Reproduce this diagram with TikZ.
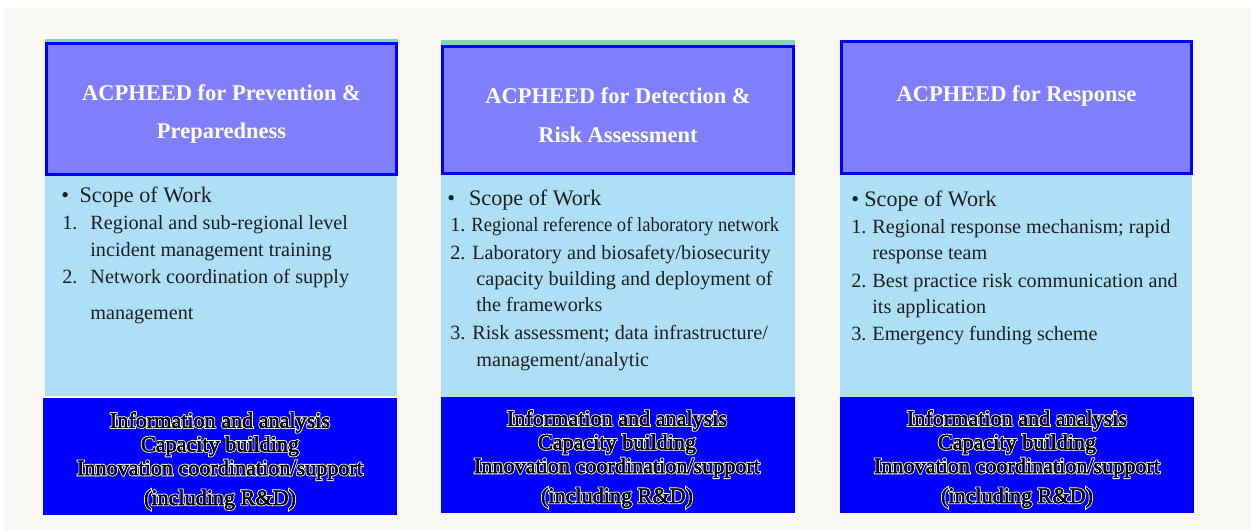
\documentclass[tikz,border=0pt]{standalone}
\usepackage{fontspec}
\setmainfont{Liberation Serif}
\newfontfamily\halofont[FakeBold=10]{Liberation Serif}
\newfontfamily\tagfont[FakeBold=2.5]{Liberation Serif}
\usepackage{graphicx}
\usepackage{xcolor}
\usetikzlibrary{positioning}

\definecolor{paper}{RGB}{250,248,244}
\definecolor{headfill}{RGB}{127,127,255}
\definecolor{headline}{RGB}{0,0,255}
\definecolor{bodyfill}{RGB}{173,223,247}
\definecolor{footfill}{RGB}{0,0,255}
\definecolor{rim}{RGB}{128,212,198}
\definecolor{ink}{RGB}{30,30,30}

% shared cross-cutting functions, set as black text over a white stroked copy
\newcommand{\tagtext}{Information and analysis\\Capacity building\\Innovation coordination/support\\[3.5pt](including R\&D)}
\newcommand{\crosscut}[3]{%
  \node[tag, text=white, font=\fontsize{12.6}{13.5}\selectfont\halofont, name=#1-halo] at (#2,#3) {\tagtext};
  \node[tag, text=black, font=\fontsize{12.6}{13.5}\selectfont\tagfont, name=#1] at (#2,#3) {\tagtext};}

\begin{document}
\begin{tikzpicture}[
  x=0.02cm, y=-0.02cm,
  head/.style={font=\fontsize{12.8}{22}\selectfont\bfseries, text=white, align=center, inner sep=0pt},
  scope/.style={anchor=base west, font=\fontsize{12.6}{15}\selectfont, text=ink, inner sep=0pt},
  entry/.style={anchor=base west, font=\fontsize{11.5}{15}\selectfont, text=ink, inner sep=0pt},
  tag/.style={align=center, inner sep=0pt}
]
\useasboundingbox (0,0) rectangle (1251,530);
\fill[white] (0,0) rectangle (1251,530);
\fill[paper] (4,8) rectangle (1251,530);

% Prevention & Preparedness
\fill[rim] (45,39) rectangle (398,44);
\fill[bodyfill] (45,176) rectangle (397,396);
\draw[headline, line width=1.7pt, fill=headfill] (46.5,43.5) rectangle (396.5,174.5);
\fill[footfill] (43,398) rectangle (397,515);
\node[head] (prevhead) at (221.5,114) {ACPHEED for Prevention \&\\Preparedness};
\node[scope] (prevscope) at (61,202.5) {\textbullet\hspace{6pt}Scope of Work};
\foreach \x/\y/\t [count=\i] in {
    62/230/{\makebox[16pt][l]{1.}Regional and sub-regional level},
    90/256/{incident management training},
    62/283/{\makebox[16pt][l]{2.}Network coordination of supply},
    90/319/{management}}
  \node[entry, name=prev-\i] at (\x,\y) {\t};
\crosscut{prevtags}{220}{461}

% Detection & Risk Assessment
\fill[rim] (441,40) rectangle (795,46);
\fill[bodyfill] (441,175) rectangle (795,397);
\draw[headline, line width=1.7pt, fill=headfill] (442.5,46.5) rectangle (793.5,173.5);
\fill[footfill] (441,397) rectangle (795,513);
\node[head] (dethead) at (618,115) {ACPHEED for Detection \&\\Risk Assessment};
\node[scope] (detscope) at (447,206) {\textbullet\hspace{8pt}Scope of Work};
\foreach \x/\y/\t [count=\i] in {
    450/232/{\makebox[12pt][l]{1.}\scalebox{0.92}[1]{Regional reference of laboratory network}},
    450/259/{\makebox[12.5pt][l]{2.}Laboratory and biosafety/biosecurity},
    476/286/{capacity building and deployment of},
    476/312/{the frameworks},
    450/339/{\makebox[12.5pt][l]{3.}Risk assessment; data infrastructure/},
    476/366/{management/analytic}}
  \node[entry, name=det-\i] at (\x,\y) {\t};
\crosscut{dettags}{617}{459}

% Response
\fill[bodyfill] (840,175) rectangle (1192,398);
\draw[headline, line width=1.7pt, fill=headfill] (841.5,41.5) rectangle (1191.5,173.5);
\fill[footfill] (840,397) rectangle (1194,513);
\node[head] (resphead) at (1016.5,96) {ACPHEED for Response};
\node[scope] (respscope) at (851,207) {\textbullet\hspace{3pt}Scope of Work};
\foreach \x/\y/\t [count=\i] in {
    851/234/{\makebox[12pt][l]{1.}Regional response mechanism; rapid},
    872/260/{response team},
    851/288/{\makebox[12pt][l]{2.}Best practice risk communication and},
    872/314/{its application},
    851/340/{\makebox[12pt][l]{3.}Emergency funding scheme}}
  \node[entry, name=resp-\i] at (\x,\y) {\t};
\crosscut{resptags}{1017}{459}
\end{tikzpicture}
\end{document}
